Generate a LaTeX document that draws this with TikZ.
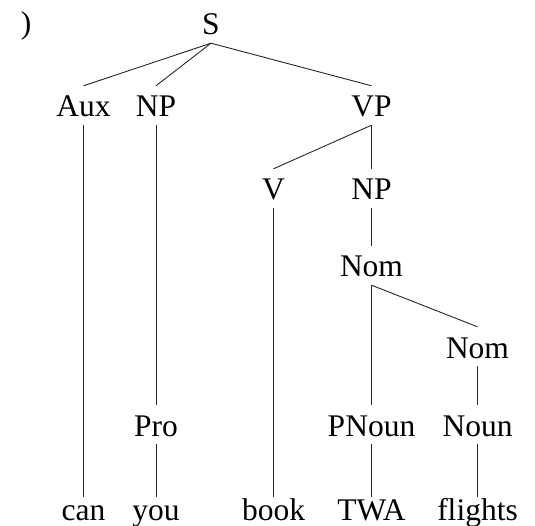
\documentclass[tikz,border=0pt]{standalone}
\usepackage{fontspec}
\setmainfont{Liberation Serif}
\begin{document}
\begin{tikzpicture}[x=1pt,y=-1pt,
  every node/.style={font=\fontsize{31.5}{36}\selectfont, inner xsep=0pt, anchor=base},
  cat/.style={text height=23pt, text depth=0pt, inner ysep=8pt},
  leaf/.style={text height=15pt, text depth=0pt, inner ysep=8pt},
  branch/.style={line width=0.9pt, draw=black!85}]
\useasboundingbox (0,0) rectangle (535,526);
% label fragment
\node (lbl) at (26,34) {)};
% categories
\node[cat] (S) at (211,35) {S};
\node[cat] (Aux) at (83.5,117) {Aux};
\node[cat] (NPa) at (156,117) {NP};
\node[cat] (VP) at (371.5,117) {VP};
\node[cat] (V) at (273.5,200) {V};
\node[cat] (NPb) at (371.5,200) {NP};
\node[cat] (NomA) at (371.5,277) {Nom};
\node[cat] (NomB) at (477.5,358) {Nom};
\node[cat] (Pro) at (156,436) {Pro};
\node[cat] (PNoun) at (371.5,436) {PNoun};
\node[cat] (Noun) at (477.5,436) {Noun};
% words
\node[leaf] (can) at (83.5,520) {can};
\node[leaf] (you) at (156,520) {you};
\node[leaf] (book) at (273.5,520) {book};
\node[leaf] (TWA) at (371.5,520) {TWA};
\node[leaf] (flights) at (477.5,520) {flights};
% branches
\draw[branch] (S.south) -- (Aux.north);
\draw[branch] (S.south) -- (NPa.north);
\draw[branch] (S.south) -- (VP.north);
\draw[branch] (Aux.south) -- (can.north);
\draw[branch] (NPa.south) -- (Pro.north);
\draw[branch] (Pro.south) -- (you.north);
\draw[branch] (VP.south) -- (V.north);
\draw[branch] (VP.south) -- (NPb.north);
\draw[branch] (V.south) -- (book.north);
\draw[branch] (NPb.south) -- (NomA.north);
\draw[branch] (NomA.south) -- (PNoun.north);
\draw[branch] (NomA.south) -- (NomB.north);
\draw[branch] (PNoun.south) -- (TWA.north);
\draw[branch] (NomB.south) -- (Noun.north);
\draw[branch] (Noun.south) -- (flights.north);
\end{tikzpicture}
\end{document}
